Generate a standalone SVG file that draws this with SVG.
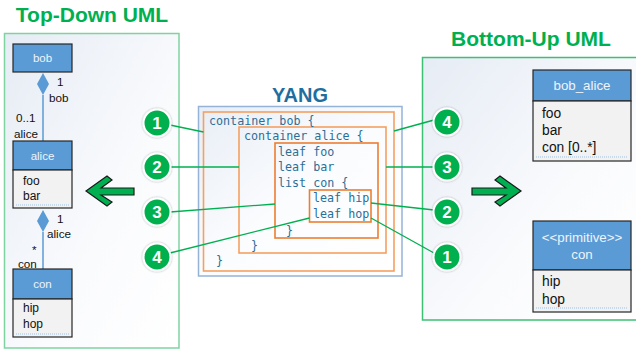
<svg xmlns="http://www.w3.org/2000/svg" width="636" height="352" viewBox="0 0 636 352">
<defs>
<linearGradient id="pg" x1="0" y1="0" x2="1" y2="1">
<stop offset="0" stop-color="#E6ECF5"/>
<stop offset="0.6" stop-color="#FAFBFD"/>
<stop offset="1" stop-color="#FFFFFF"/>
</linearGradient>
<linearGradient id="yg" x1="0" y1="0" x2="1" y2="1">
<stop offset="0" stop-color="#E8EEF6"/>
<stop offset="0.5" stop-color="#FBFCFE"/>
<stop offset="1" stop-color="#FFFFFF"/>
</linearGradient>
<filter id="sh" x="-30%" y="-30%" width="160%" height="160%">
<feDropShadow dx="0" dy="0" stdDeviation="1" flood-color="#000" flood-opacity="0.35"/>
</filter>
</defs>
<style>
.title{font-family:"Liberation Sans",Arial,sans-serif;font-weight:bold;fill:#00B050;font-size:21px}
.yang{font-family:"Liberation Sans",Arial,sans-serif;font-weight:bold;fill:#1F6E9E;font-size:20px}
.code{font-family:"DejaVu Sans Mono","Liberation Mono",monospace;font-size:11.7px;fill:#2A6F97}
.hdr{fill:#5B9BD5;stroke:#262626;stroke-width:1.2}
.body{fill:#F2F2F2;stroke:#262626;stroke-width:1.2}
.ht{font-family:"Liberation Sans",Arial,sans-serif;font-size:11.5px;fill:#EEF4FB;text-anchor:middle}
.bt{font-family:"Liberation Sans",Arial,sans-serif;font-size:12px;fill:#111}
.htr{font-family:"Liberation Sans",Arial,sans-serif;font-size:13.3px;fill:#EEF4FB;text-anchor:middle}
.btr{font-family:"Liberation Sans",Arial,sans-serif;font-size:13.8px;fill:#111}
.lbl{font-family:"Liberation Sans",Arial,sans-serif;font-size:11.7px;fill:#111}
.dot{stroke:#9DC3E6;stroke-width:1;stroke-dasharray:1 1}
.assoc{stroke:#5B9BD5;stroke-width:1.5;fill:none}
.dia{fill:#5B9BD5}
.link{stroke:#00B050;stroke-width:1.3;fill:none}
.circ{fill:#00B050;stroke:#fff;stroke-width:2;filter:url(#sh)}
.num{font-family:"Liberation Sans",Arial,sans-serif;font-weight:bold;font-size:17px;fill:#fff;text-anchor:middle}
.ob{fill:none;stroke:#F4A062;stroke-width:1.6}
.oi{fill:none;stroke:#ED7D31;stroke-width:1.6}
.arrow{fill:#00B050;stroke:#1a1a1a;stroke-width:1.2;stroke-linejoin:miter}
</style>

<!-- Panels -->
<g id="left-panel">
<rect x="4.5" y="33.5" width="174.5" height="314.5" fill="url(#pg)" stroke="#7FD3A1" stroke-width="1.5"/>
</g>
<g id="right-panel">
<rect x="422.5" y="57.5" width="214" height="262.5" fill="url(#pg)"/>
<path d="M637 57.5 H422.5 V320 H637" fill="none" stroke="#3CC074" stroke-width="1.5"/>
</g>

<text class="title" x="92" y="22" text-anchor="middle">Top-Down UML</text>
<text class="title" x="531" y="46" text-anchor="middle">Bottom-Up UML</text>
<text class="yang" x="300" y="102" text-anchor="middle">YANG</text>

<!-- YANG code -->
<g id="yang">
<rect x="198.5" y="106.5" width="203.5" height="169.5" fill="url(#yg)" stroke="#95B3D7" stroke-width="1.5"/>
<rect class="ob" x="203.5" y="112" width="190.5" height="159"/>
<rect class="ob" x="239" y="127" width="147" height="126"/>
<rect class="oi" x="275" y="143" width="103" height="95"/>
<rect class="oi" x="309.5" y="190" width="61.5" height="32"/>
<text class="code" x="209" y="125">container bob {</text>
<text class="code" x="244" y="140">container alice {</text>
<text class="code" x="278" y="156">leaf foo</text>
<text class="code" x="278" y="171">leaf bar</text>
<text class="code" x="278" y="187">list con {</text>
<text class="code" x="313" y="202">leaf hip</text>
<text class="code" x="313" y="218">leaf hop</text>
<text class="code" x="286" y="235">}</text>
<text class="code" x="251" y="250">}</text>
<text class="code" x="216" y="265">}</text>
</g>

<!-- Connectors -->
<g id="connectors">
<line class="link" x1="170" y1="125" x2="203.5" y2="132"/>
<line class="link" x1="170" y1="167" x2="239" y2="167"/>
<line class="link" x1="170" y1="212" x2="275" y2="204"/>
<line class="link" x1="170" y1="253" x2="309.5" y2="218"/>
<line class="link" x1="434" y1="120" x2="394" y2="131"/>
<line class="link" x1="434" y1="167" x2="386" y2="167"/>
<line class="link" x1="434" y1="210" x2="371" y2="203"/>
<line class="link" x1="434" y1="253" x2="371" y2="218"/>
<!-- UML associations -->
<path class="assoc" d="M43 95 V141"/>
<polygon class="dia" points="43,73 49,84 43,95 37,84"/>
<path class="assoc" d="M43 232 V269"/>
<polygon class="dia" points="43,210 49,221 43,232 37,221"/>
<text class="lbl" x="57" y="86">1</text>
<text class="lbl" x="49" y="102">bob</text>
<text class="lbl" x="16" y="122">0..1</text>
<text class="lbl" x="14" y="138">alice</text>
<text class="lbl" x="57" y="223">1</text>
<text class="lbl" x="47" y="238">alice</text>
<text class="lbl" x="32" y="254">*</text>
<text class="lbl" x="18" y="268">con</text>
</g>

<!-- Circles -->
<g id="c-l1"><circle class="circ" cx="157" cy="123" r="13.5"/><text class="num" x="157" y="129">1</text></g>
<g id="c-l2"><circle class="circ" cx="157" cy="167" r="13.5"/><text class="num" x="157" y="173">2</text></g>
<g id="c-l3"><circle class="circ" cx="157" cy="212" r="13.5"/><text class="num" x="157" y="218">3</text></g>
<g id="c-l4"><circle class="circ" cx="157" cy="257" r="13.5"/><text class="num" x="157" y="263">4</text></g>
<g id="c-r4"><circle class="circ" cx="447" cy="122" r="13.5"/><text class="num" x="447" y="128">4</text></g>
<g id="c-r3"><circle class="circ" cx="447" cy="167" r="13.5"/><text class="num" x="447" y="173">3</text></g>
<g id="c-r2"><circle class="circ" cx="447" cy="212" r="13.5"/><text class="num" x="447" y="218">2</text></g>
<g id="c-r1"><circle class="circ" cx="447" cy="257" r="13.5"/><text class="num" x="447" y="263">1</text></g>

<!-- Arrows -->
<g id="arrow-left">
<polygon class="arrow" points="86,191 107,176 112,180 101,188 134,188 134,195 101,195 112,202 107,206"/>
</g>
<g id="arrow-right">
<polygon class="arrow" points="521,191 500,176 495,180 506,188 472,188 472,195 506,195 495,202 500,206"/>
</g>

<!-- Top-down UML classes -->
<g id="bob">
<rect class="hdr" x="13" y="44" width="59" height="28"/>
<text class="ht" x="42.5" y="62">bob</text>
</g>
<g id="alice">
<rect class="hdr" x="13" y="141" width="59" height="29"/>
<rect class="body" x="13" y="170" width="59" height="38"/>
<text class="ht" x="42.5" y="160">alice</text>
<text class="bt" x="23" y="185">foo</text>
<text class="bt" x="23" y="200">bar</text>
<line class="dot" x1="16" y1="205" x2="69" y2="205"/>
</g>
<g id="con">
<rect class="hdr" x="13" y="269" width="59" height="30"/>
<rect class="body" x="13" y="299" width="59" height="38"/>
<text class="ht" x="42.5" y="288">con</text>
<text class="bt" x="23" y="312">hip</text>
<text class="bt" x="23" y="328">hop</text>
<line class="dot" x1="16" y1="334" x2="69" y2="334"/>
</g>

<!-- Bottom-up UML classes -->
<g id="bob_alice">
<rect class="hdr" x="533" y="70" width="98" height="31"/>
<rect class="body" x="533" y="101" width="98" height="60"/>
<text class="htr" x="582" y="90">bob_alice</text>
<text class="btr" x="542" y="118">foo</text>
<text class="btr" x="542" y="135">bar</text>
<text class="btr" x="542" y="152">con [0..*]</text>
<line class="dot" x1="536" y1="157" x2="628" y2="157"/>
</g>
<g id="primitive-con">
<rect class="hdr" x="533" y="221" width="98" height="49"/>
<rect class="body" x="533" y="270" width="98" height="42"/>
<text class="htr" x="582" y="242">&lt;&lt;primitive&gt;&gt;</text>
<text class="htr" x="582" y="259">con</text>
<text class="btr" x="542" y="286">hip</text>
<text class="btr" x="542" y="304">hop</text>
<line class="dot" x1="536" y1="308" x2="628" y2="308"/>
</g>
</svg>
